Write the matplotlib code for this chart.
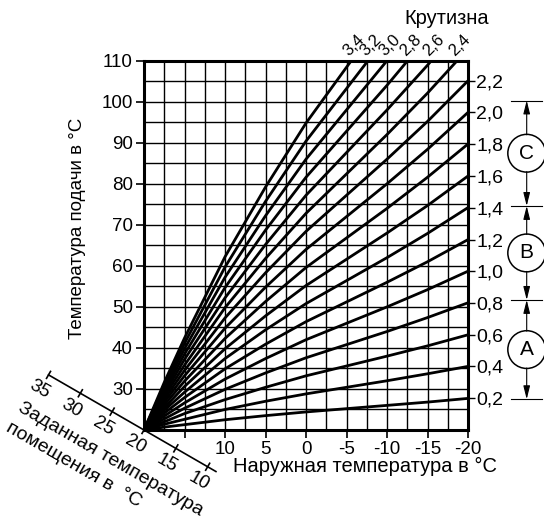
import numpy as np
import matplotlib
matplotlib.use("Agg")
import matplotlib.pyplot as plt

plt.rcParams["font.family"] = ["Liberation Sans", "DejaVu Sans"]
plt.rcParams["axes.unicode_minus"] = False

# outdoor temperature points (°C)
t_out = [20, 17.5, 15, 10, 5, 0, -5, -10, -15, -20]

# flow temperature (°C) of each heating curve at the t_out points
slopes = ["0,2", "0,4", "0,6", "0,8", "1,0", "1,2", "1,4", "1,6", "1,8",
          "2,0", "2,2", "2,4", "2,6", "2,8", "3,0", "3,2", "3,4"]
flow = [
    [20, 20.7, 21.3, 22.5, 23.5, 24.4, 25.2, 26.0, 26.8, 27.7],
    [20, 21.4, 22.6, 25.0, 27.0, 28.8, 30.4, 32.0, 33.7, 35.5],
    [20, 22.0, 24.0, 27.4, 30.4, 33.2, 35.6, 38.0, 40.5, 43.2],
    [20, 22.7, 25.3, 29.9, 33.9, 37.6, 40.8, 44.0, 47.4, 51.0],
    [20, 23.4, 26.6, 32.4, 37.4, 42.0, 46.0, 50.0, 54.2, 58.7],
    [20, 24.1, 27.9, 34.9, 40.9, 46.4, 51.2, 56.0, 61.0, 66.4],
    [20, 24.8, 29.2, 37.4, 44.4, 50.8, 56.4, 62.0, 67.9, 74.2],
    [20, 25.4, 30.6, 39.8, 47.8, 55.2, 61.6, 68.0, 74.7, 81.9],
    [20, 26.1, 31.9, 42.3, 51.3, 59.6, 66.8, 74.0, 81.6, 89.7],
    [20, 26.8, 33.2, 44.8, 54.8, 64.0, 72.0, 80.0, 88.4, 97.4],
    [20, 27.5, 34.5, 47.3, 58.3, 68.4, 77.2, 86.0, 95.2, 105.1],
    [20, 28.2, 35.8, 49.8, 61.8, 72.8, 82.4, 92.0, 102.1, 112.9],
    [20, 28.8, 37.2, 52.2, 65.2, 77.2, 87.6, 98.0, 108.9, 120.6],
    [20, 29.5, 38.5, 54.7, 68.7, 81.6, 92.8, 104.0, 115.8, 128.4],
    [20, 30.2, 39.8, 57.2, 72.2, 86.0, 98.0, 110.0, 122.6, 136.1],
    [20, 30.9, 41.1, 59.7, 75.7, 90.4, 103.2, 116.0, 129.4, 143.8],
    [20, 31.6, 42.4, 62.2, 79.2, 94.8, 108.4, 122.0, 136.3, 151.6],
]

x_ticks = [15, 10, 5, 0, -5, -10, -15, -20]
x_labels = ["", "10", "5", "0", "-5", "-10", "-15", "-20"]
y_ticks = [30, 40, 50, 60, 70, 80, 90, 100, 110]

room_temps = [35, 30, 25, 20, 15, 10]

# ranges A, B, C on the right (flow temperature bounds)
range_bounds = [27.5, 51.7, 74.6, 100.3]
range_names = ["A", "B", "C"]

fig = plt.figure(figsize=(5.44, 5.22), dpi=100)
W, H = 544, 522
ax = fig.add_axes([144 / W, 92 / H, 324 / W, 369.3 / H])
ax.set_xlim(20, -20)
ax.set_ylim(20, 110)

ax.set_xticks(x_ticks)
ax.set_xticklabels(x_labels)
ax.set_xticks(np.arange(17.5, -20, -2.5), minor=True)
ax.set_yticks(y_ticks)
ax.set_yticks(np.arange(25, 110, 5), minor=True)
ax.tick_params(which="major", direction="out", length=6, width=1.2,
               labelsize=13.5, pad=2)
ax.tick_params(which="minor", length=0)
ax.grid(which="both", color="black", lw=1.0)
ax.set_axisbelow(True)
for sp in ax.spines.values():
    sp.set_linewidth(2.2)

for row in flow:
    ax.plot(t_out, row, color="black", lw=2.0, solid_capstyle="butt")

# right-hand slope labels at the curve ends
ends = [row[-1] for row in flow if row[-1] <= 110]
ax2 = ax.twinx()
ax2.set_ylim(20, 110)
ax2.set_yticks(ends)
ax2.set_yticklabels(slopes[:len(ends)])
ax2.tick_params(direction="out", length=5, width=1.0, labelsize=14, pad=1)
for sp in ax2.spines.values():
    sp.set_visible(False)

# top slope labels where the curves leave through 110
for name, row in zip(slopes[len(ends):], flow[len(ends):]):
    xc = np.interp(110, row, t_out)
    ax.annotate(name, (xc, 110), xytext=(2, 11), textcoords="offset points",
                rotation=45, ha="center", va="center", fontsize=12,
                annotation_clip=False)

fig.text(447 / W, 1 - 18 / H, "Крутизна", ha="center", va="center",
         fontsize=14.5)
fig.text(78 / W, 1 - 228 / H, "Температура подачи в °C", rotation=90,
         ha="center", va="center", fontsize=13.5)
fig.text(233 / W, 1 - 466 / H, "Наружная температура в °C", ha="left",
         va="center", fontsize=14.5)

# A / B / C ranges
yt = ax.get_yaxis_transform()
xa = (526.7 - 144) / 324
for b in range_bounds:
    ax.plot([(511 - 144) / 324, (541.7 - 144) / 324], [b, b], color="black",
            lw=0.8, transform=yt, clip_on=False)
for name, lo, hi in zip(range_names, range_bounds[:-1], range_bounds[1:]):
    mid = (lo + hi) / 2
    ax.text(xa, mid, name, transform=yt, ha="center", va="center",
            fontsize=15,
            bbox=dict(boxstyle="circle,pad=0.45", fc="white", ec="black", lw=1.1))
    for end, start in ((hi, mid + 4.5), (lo, mid - 4.5)):
        ax.annotate("", xy=(xa, end), xytext=(xa, start), xycoords=yt,
                    textcoords=yt, annotation_clip=False,
                    arrowprops=dict(arrowstyle="-|>,head_length=0.8,head_width=0.2",
                                    color="black", lw=0.8, shrinkA=0, shrinkB=0))

# diagonal room temperature scale, drawn in pixel coordinates
ov = fig.add_axes([0, 0, 1, 1])
ov.set_xlim(0, W)
ov.set_ylim(H, 0)
ov.axis("off")
ox, oy = ax.transData.transform((20, 20))
oy = H - oy
ang = np.deg2rad(30)
u = np.array([-np.cos(ang), -np.sin(ang)])
n = np.array([np.sin(ang), -np.cos(ang)])
k = 7.35


def pos(r):
    return np.array([ox, oy]) + (r - 20) * k * u


p0, p1 = pos(35), pos(8.7)
ov.plot([p0[0], p1[0]], [p0[1], p1[1]], color="black", lw=1.2)
for r in room_temps:
    p = pos(r)
    a, b = p - 4 * n, p + 4 * n
    ov.plot([a[0], b[0]], [a[1], b[1]], color="black", lw=1.2)
    q = p - 17 * n
    ov.text(q[0], q[1], str(r), rotation=-30, ha="center", va="center",
            fontsize=13.5)

ov.text(17, 411, "Заданная температура", rotation=-30, rotation_mode="anchor",
        ha="left", va="baseline", fontsize=14)
ov.text(5, 431, "помещения в  °C", rotation=-30, rotation_mode="anchor",
        ha="left", va="baseline", fontsize=14)

fig.savefig("out.png", dpi=100)
